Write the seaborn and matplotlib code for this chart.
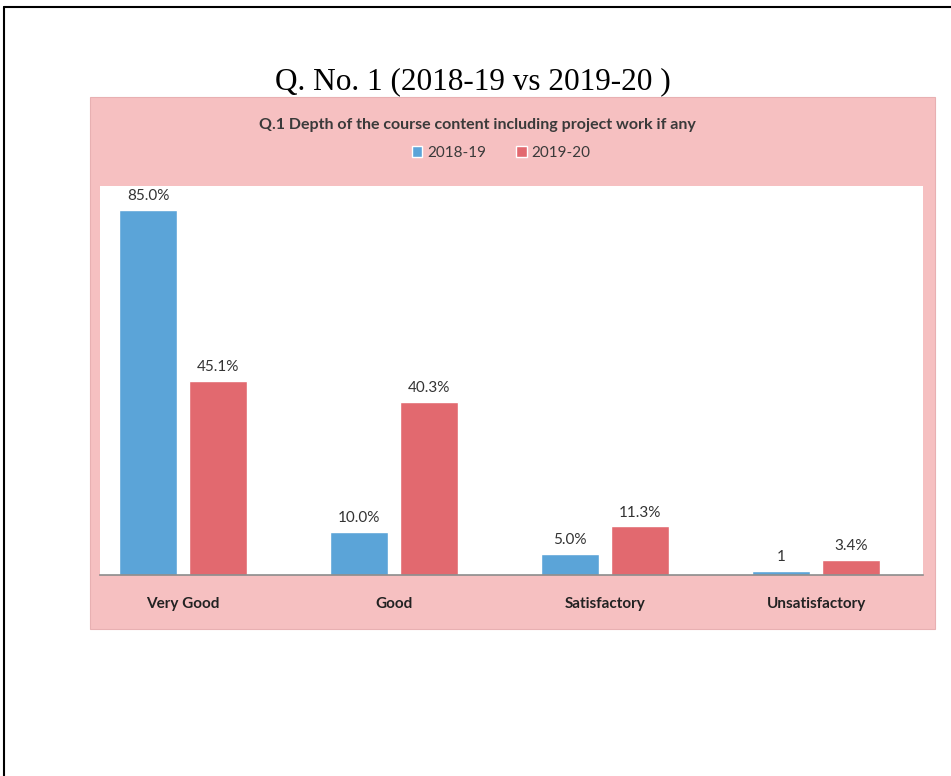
import numpy as np
import pandas as pd
import matplotlib.pyplot as plt
import seaborn as sns
from matplotlib.patches import Rectangle
from matplotlib.lines import Line2D

# chart data
categories = ['Very Good', 'Good', 'Satisfactory', 'Unsatisfactory']
years = ['2018-19', '2019-20']
vals_1819 = [85.0, 10.0, 5.0, 1.0]
vals_1920 = [45.1, 40.3, 11.3, 3.4]
labels_1819 = ['85.0%', '10.0%', '5.0%', '1']
labels_1920 = ['45.1%', '40.3%', '11.3%', '3.4%']

colors = ['#5BA4D8', '#E2696F']
pink = '#F6C0C1'

df = pd.DataFrame({
    'category': categories * 2,
    'year': [years[0]] * 4 + [years[1]] * 4,
    'value': vals_1819 + vals_1920,
})

sns.set_theme(style='white')
plt.rcParams['font.family'] = ['Lato', 'DejaVu Sans']

fig = plt.figure(figsize=(9.51, 7.76), dpi=100)
fig.patch.set_facecolor('white')

# page frame (left and top)
fig.add_artist(Line2D([0.0042, 0.0042], [0.0, 0.991], transform=fig.transFigure,
                      color='black', lw=1.5))
fig.add_artist(Line2D([0.0042, 1.0], [0.991, 0.991], transform=fig.transFigure,
                      color='black', lw=1.5))

# pink chart panel, kept behind the axes
fig.patches.append(Rectangle((0.0946, 0.1894), 0.889, 0.6856, transform=fig.transFigure,
                             facecolor=pink, edgecolor='#E8B0B2', lw=0.8, zorder=-5))

fig.text(0.497, 0.895, 'Q. No. 1 (2018-19 vs 2019-20 )', ha='center', va='center',
         family='Liberation Serif', fontsize=22.5, color='black')
fig.text(0.502, 0.839, 'Q.1 Depth of the course content including project work if any',
         ha='center', va='center', fontsize=11.5, fontweight='bold', color='#3A3A3A')

ax = fig.add_axes([0.105, 0.259, 0.8656, 0.501])
ax.set_facecolor('white')
ax.set_zorder(1)

sns.barplot(data=df, x='category', y='value', hue='year', order=categories,
            hue_order=years, palette=colors, width=0.66, gap=0.17,
            saturation=1, legend=False, ax=ax)

for cont, labs in zip(ax.containers, [labels_1819, labels_1920]):
    ax.bar_label(cont, labels=labs, padding=5, fontsize=11, color='#333333')

ax.set_xlim(-0.393, 3.507)
ax.set_ylim(0, 90.5)
ax.set_xlabel('')
ax.set_ylabel('')
ax.set_yticks([])
ax.tick_params(axis='x', length=0, pad=16, labelsize=11, labelcolor='#222222')
for lab in ax.get_xticklabels():
    lab.set_fontweight('bold')
for side in ['top', 'left', 'right']:
    ax.spines[side].set_visible(False)
ax.spines['bottom'].set_color('#8C8C8C')
ax.spines['bottom'].set_linewidth(1.2)

handles = [Rectangle((0, 0), 1, 1, facecolor=c) for c in colors]
fig.legend(handles, years, loc='center', bbox_to_anchor=(0.527, 0.803), ncol=2,
           frameon=False, fontsize=11, handlelength=0.7, handleheight=0.7,
           handletextpad=0.3, columnspacing=2.0, labelcolor='#3A3A3A')

fig.savefig('out.png', dpi=100)
